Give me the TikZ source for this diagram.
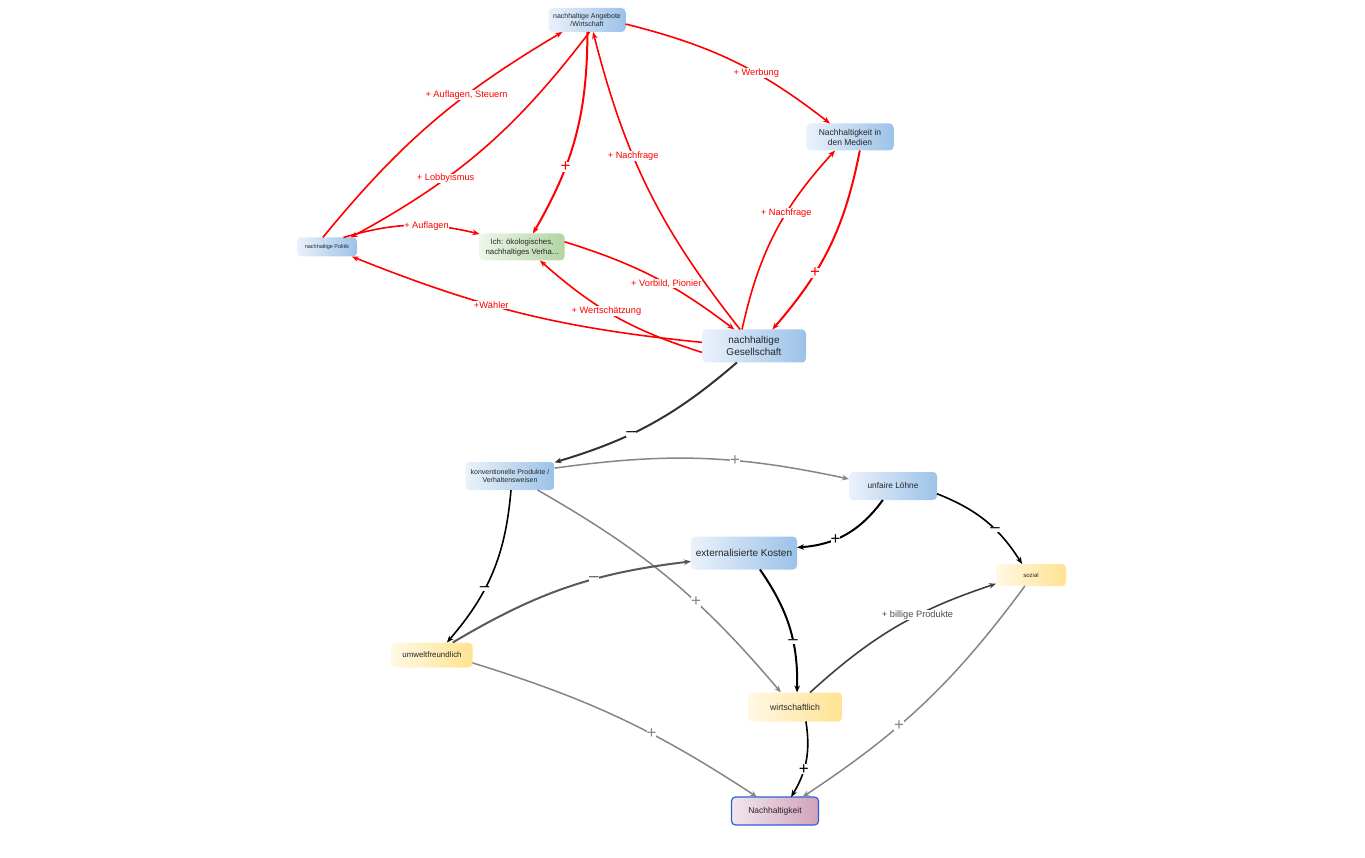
\documentclass[tikz,border=0pt]{standalone}
\usepackage{fontspec}
\setmainfont{Liberation Sans}
\usetikzlibrary{arrows.meta}

\definecolor{bluelight}{HTML}{EAF2FB}
\definecolor{bluedark}{HTML}{9CC2E8}
\definecolor{greenlight}{HTML}{EEF6EA}
\definecolor{greendark}{HTML}{B2D4A2}
\definecolor{yellowlight}{HTML}{FFF8E4}
\definecolor{yellowdark}{HTML}{FFE391}
\definecolor{pinklight}{HTML}{F2E6EE}
\definecolor{pinkdark}{HTML}{D2A2BA}
\definecolor{frameblue}{HTML}{2A62D6}

\newcommand{\fsz}[2]{\fontsize{#1}{#2}\selectfont}

\begin{document}
\begin{tikzpicture}[x=1pt, y=1pt,
		box/.style={rectangle, rounded corners=4pt, inner sep=1pt, outer sep=0pt, align=center, text=black!85},
		bluebox/.style={box, left color=bluelight, right color=bluedark},
		greenbox/.style={box, left color=greenlight, right color=greendark},
		yellowbox/.style={box, left color=yellowlight, right color=yellowdark},
		goalbox/.style={box, left color=pinklight, right color=pinkdark, draw=frameblue, line width=1.2pt},
		tip/.style={-{Stealth[length=7pt, width=5.5pt]}},
		rededge/.style={tip, draw=red, line width=1.6pt},
		blackedge/.style={tip, draw=black, line width=1.6pt},
		darkedge/.style={tip, draw=black!75, line width=2pt},
		grayedge/.style={tip, draw=black!48, line width=1.5pt},
		redlabel/.style={fill=white, inner sep=0.5pt, text=red, pos=0.62, font=\fsz{9.25}{11}},
		redsign/.style={redlabel, pos=0.66, inner sep=0pt, font=\fsz{17}{17}},
		sign/.style={fill=white, inner sep=0pt, pos=0.62, font=\fsz{17}{17}}
	]
	\useasboundingbox (0,0) rectangle (1365,-858);

	% Upper part
	\node[bluebox, minimum width=77, minimum height=24, font=\fsz{7}{8}] (angebote) at (587,-20) {nachhaltige Angebote\\/Wirtschaft};
	\node[bluebox, minimum width=87, minimum height=27, font=\fsz{8.5}{10}] (medien) at (850,-137) {Nachhaltigkeit in\\den Medien};
	\node[bluebox, minimum width=60, minimum height=19, font=\fsz{5.5}{6}] (politik) at (327,-247) {nachhaltige Politik};
	\node[greenbox, minimum width=85, minimum height=27, font=\fsz{7.8}{10}] (ich) at (522,-247) {Ich: ökologisches,\\nachhaltiges Verha...};
	\node[bluebox, minimum width=104, minimum height=33, font=\fsz{10}{11.5}] (gesell) at (754,-346) {nachhaltige\\Gesellschaft};

	% Lower part
	\node[bluebox, minimum width=89, minimum height=28, font=\fsz{7}{8.5}] (konv) at (510,-476) {konventionelle Produkte /\\Verhaltensweisen};
	\node[bluebox, minimum width=88, minimum height=28, font=\fsz{8.3}{10}] (unfaire) at (893,-486) {unfaire Löhne};
	\node[bluebox, minimum width=106, minimum height=33, font=\fsz{10}{12}] (ext) at (744,-553) {externalisierte Kosten};
	\node[yellowbox, minimum width=70, minimum height=22, font=\fsz{6}{7}] (sozial) at (1031,-575) {sozial};
	\node[yellowbox, minimum width=81, minimum height=25, font=\fsz{7.9}{9}] (umwelt) at (432,-655) {umweltfreundlich};
	\node[yellowbox, minimum width=94, minimum height=29, font=\fsz{8.7}{10}] (wirt) at (795,-707) {wirtschaftlich};
	\node[goalbox, minimum width=87, minimum height=28, font=\fsz{8.5}{10}] (nachh) at (775,-811) {Nachhaltigkeit};

	% Red connections
	\draw[rededge] (politik.114) to[bend left=10] node[redlabel, pos=0.65] {+ Auflagen, Steuern} (angebote.206);
	\draw[rededge] (angebote.282) to[bend left=12] node[redlabel, pos=0.66] {+ Lobbyismus} (politik.22);
	\draw[rededge, line width=2pt] (angebote.272) to[bend left=15] node[redsign] {+} (ich.51);
	\draw[rededge] (gesell.130) to[bend left=12] node[redlabel] {+ Nachfrage} (angebote.297);
	\draw[rededge] (angebote.354) to[bend left=12] node[redlabel] {+ Werbung} (medien.146);
	\draw[rededge] (gesell.126) to[bend left=15] node[redlabel] {+ Nachfrage} (medien.222);
	\draw[rededge, line width=2pt] (medien.306) to[bend left=15] node[redsign] {+} (gesell.42);
	\draw[rededge] (politik.30) to[bend left=15] node[redlabel] {+ Auflagen} (ich.163);
	\draw[rededge] (ich.7) to[bend left=10] node[redlabel, pos=0.58] {+ Vorbild, Pionier} (gesell.140);
	\draw[rededge] (gesell.187) to[bend left=12] node[redlabel, pos=0.56] {+ Wertschätzung} (ich.323);
	\draw[rededge] (gesell.176) to[bend left=8] node[redlabel, pos=0.6] {+Wähler} (politik.339);

	% Black and gray connections
	\draw[darkedge, draw=black!80] (gesell.224) to[bend left=12] node[sign] {--} (konv.17);
	\draw[grayedge] (konv.10) to[bend left=10] node[sign, text=black!48] {+} (unfaire.171);
	\draw[blackedge] (konv.274) to[bend left=18] node[sign] {--} (umwelt.40);
	\draw[grayedge] (konv.333) to[bend left=10] node[sign, text=black!48] {+} (wirt.134);
	\draw[blackedge, line width=2pt] (unfaire.234) to[bend left=25] node[sign] {+} (ext.6);
	\draw[blackedge] (unfaire.350) to[bend left=18] node[sign] {--} (sozial.129);
	\draw[darkedge, draw=black!65] (umwelt.31) to[bend left=12] node[sign, text=black!65] {--} (ext.189);
	\draw[blackedge, line width=2pt] (ext.314) to[bend left=18] node[sign] {--} (wirt.82);
	\draw[blackedge, draw=black!75] (wirt.44) to[bend left=12] node[redlabel, text=black!70] {+ billige Produkte} (sozial.194);
	\draw[grayedge] (umwelt.349) to[bend left=8] node[sign, text=black!48] {+} (nachh.142);
	\draw[blackedge] (wirt.307) to[bend left=20] node[sign] {+} (nachh.41);
	\draw[grayedge] (sozial.241) to[bend left=10] node[sign, text=black!48] {+} (nachh.27);

\end{tikzpicture}
\end{document}
